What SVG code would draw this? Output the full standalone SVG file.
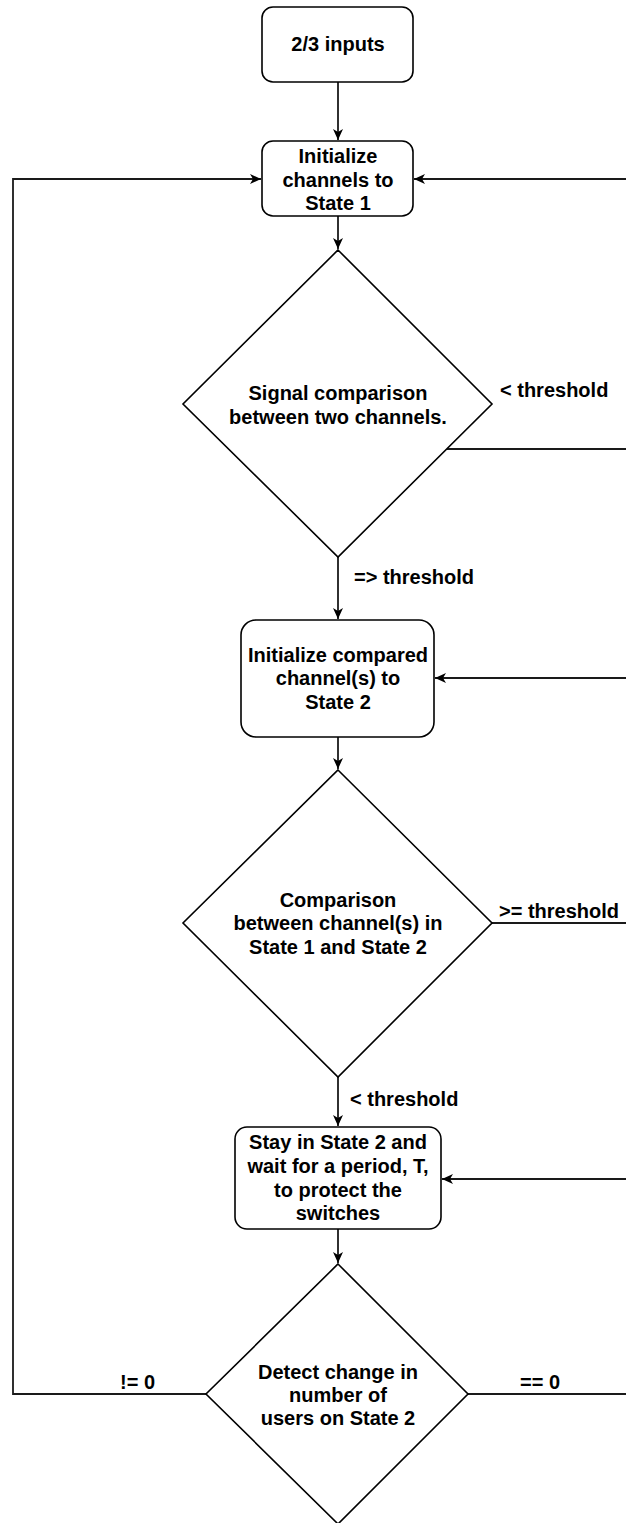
<svg xmlns="http://www.w3.org/2000/svg" width="626" height="1523" viewBox="0 0 626 1523">
<style>
.shape{fill:#fff;stroke:#000;stroke-width:1.6}
.t{font-family:"Liberation Sans",Arial,sans-serif;font-weight:bold;font-size:20px;fill:#000;text-anchor:middle}
.lbl{font-family:"Liberation Sans",Arial,sans-serif;font-weight:bold;font-size:20px;fill:#000}
.c{fill:none;stroke:#1a1a1a;stroke-width:1.8}
</style>
<defs>
<marker id="arr" markerUnits="userSpaceOnUse" markerWidth="12" markerHeight="10" refX="11" refY="5" orient="auto">
<path d="M0,0 L11,5 L0,10 L3,5 z" fill="#000"/>
</marker>
</defs>
<rect width="626" height="1523" fill="#fff"/>
<g id="connectors">
<path class="c" d="M338,82 V140" marker-end="url(#arr)"/>
<path class="c" d="M338,216 V249" marker-end="url(#arr)"/>
<path class="c" d="M338,557 V619" marker-end="url(#arr)"/>
<path class="c" d="M338,737 V769" marker-end="url(#arr)"/>
<path class="c" d="M338,1077 V1126" marker-end="url(#arr)"/>
<path class="c" d="M338,1229 V1263" marker-end="url(#arr)"/>
<path class="c" d="M447,449 H630"/>
<path class="c" d="M630,179 H414" marker-end="url(#arr)"/>
<path class="c" d="M492,923 H630"/>
<path class="c" d="M630,678 H435" marker-end="url(#arr)"/>
<path class="c" d="M468,1394 H630"/>
<path class="c" d="M630,1179 H442" marker-end="url(#arr)"/>
<path class="c" d="M206,1394 H13 V179 H261" marker-end="url(#arr)"/>
<text class="lbl" x="500" y="397">&lt; threshold</text>
<text class="lbl" x="354" y="584">=&gt; threshold</text>
<text class="lbl" x="499" y="918">&gt;= threshold</text>
<text class="lbl" x="350" y="1106">&lt; threshold</text>
<text class="lbl" x="120" y="1389">!= 0</text>
<text class="lbl" x="520" y="1389">== 0</text>
</g>
<g id="start">
<rect class="shape" x="262" y="7" width="151" height="75" rx="11"/>
<text class="t" x="338" y="51">2/3 inputs</text>
</g>
<g id="init1">
<rect class="shape" x="262" y="141" width="151" height="75" rx="11"/>
<text class="t" x="338" y="163">Initialize</text>
<text class="t" x="338" y="187">channels to</text>
<text class="t" x="338" y="210">State 1</text>
</g>
<g id="cmp1">
<polygon class="shape" points="338,250 492,404 338,557 183,404"/>
<text class="t" x="338" y="400">Signal comparison</text>
<text class="t" x="338" y="424">between two channels.</text>
</g>
<g id="init2">
<rect class="shape" x="241" y="620" width="193" height="117" rx="15"/>
<text class="t" x="338" y="662">Initialize compared</text>
<text class="t" x="338" y="685">channel(s) to</text>
<text class="t" x="338" y="709">State 2</text>
</g>
<g id="cmp2">
<polygon class="shape" points="338,770 492,923 338,1077 183,923"/>
<text class="t" x="338" y="907">Comparison</text>
<text class="t" x="338" y="930">between channel(s) in</text>
<text class="t" x="338" y="954">State 1 and State 2</text>
</g>
<g id="stay">
<rect class="shape" x="235" y="1127" width="206" height="102" rx="12"/>
<text class="t" x="338" y="1149">Stay in State 2 and</text>
<text class="t" x="338" y="1173">wait for a period, T,</text>
<text class="t" x="338" y="1197">to protect the</text>
<text class="t" x="338" y="1220">switches</text>
</g>
<g id="detect">
<polygon class="shape" points="338,1264 468,1394 338,1524 206,1394"/>
<text class="t" x="338" y="1379">Detect change in</text>
<text class="t" x="338" y="1402">number of</text>
<text class="t" x="338" y="1425">users on State 2</text>
</g>
</svg>
